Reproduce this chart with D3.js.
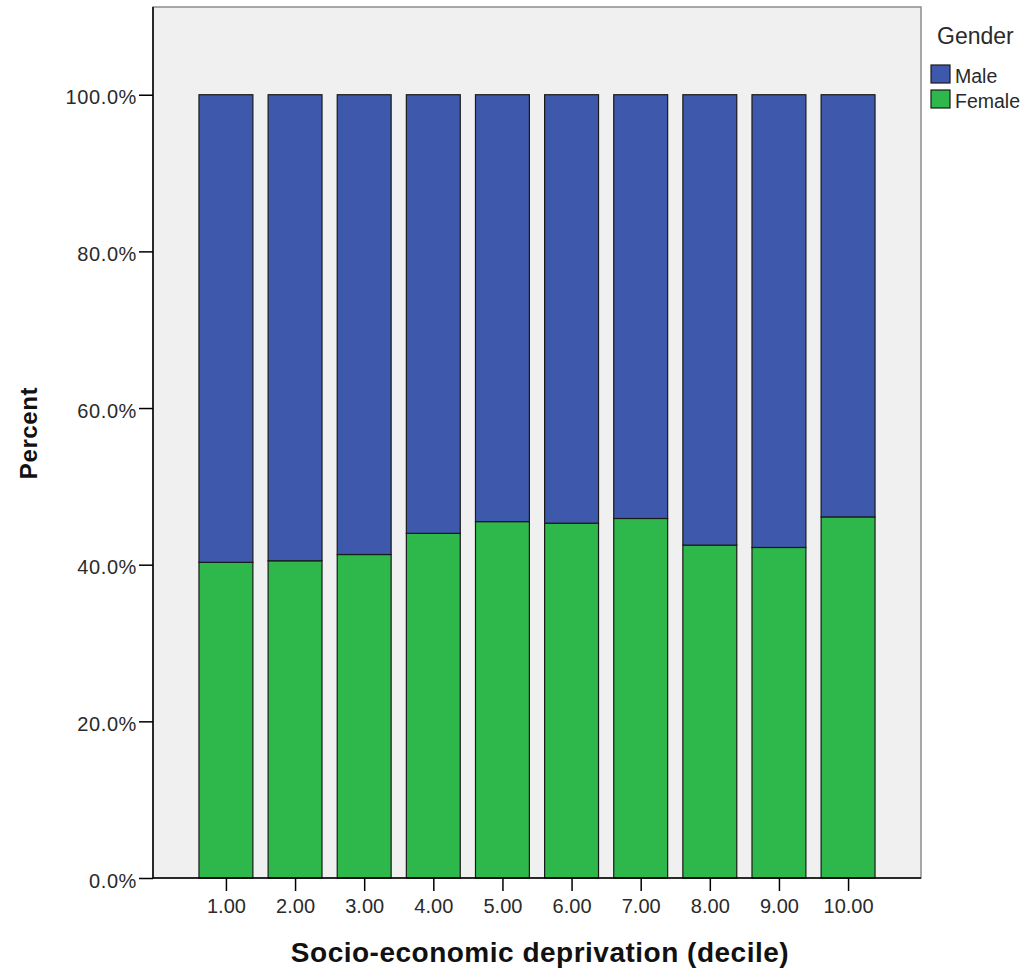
<!DOCTYPE html>
<html><head><meta charset="utf-8">
<script src="https://cdn.jsdelivr.net/npm/d3@7"></script>
<style>body{margin:0;background:#fff}svg{display:block;font-family:"Liberation Sans",Arial,sans-serif}</style>
</head><body>
<svg id="c" width="1025" height="970"></svg>
<script>
const categories = ["1.00","2.00","3.00","4.00","5.00","6.00","7.00","8.00","9.00","10.00"];
const femalePct = [40.3, 40.5, 41.3, 44.0, 45.5, 45.3, 45.9, 42.5, 42.2, 46.1];
const malePct = femalePct.map(v => 100 - v);
const yTicks = [0, 20, 40, 60, 80, 100];
const seriesNames = ["Male", "Female"];
const colors = {Male: "#3e58ac", Female: "#2eb84b"};

const svg = d3.select("#c");
const L = 153, R = 921, T = 7, B = 878;
const y = d3.scaleLinear().domain([0, 111.2]).range([B, T]);
const x = d3.scalePoint().domain(categories).range([L, R]).padding(1.055);
const bw = x.step() * 0.78;

svg.append("rect").attr("x", L).attr("y", T).attr("width", R - L).attr("height", B - T)
  .attr("fill", "#f0f0f0").attr("stroke", "#8c8c8c").attr("stroke-width", 1.5);

const data = categories.map((c, i) => ({c, Female: femalePct[i], Male: malePct[i]}));
const stack = d3.stack().keys(["Female", "Male"])(data);
svg.append("g").selectAll("g").data(stack).join("g")
  .attr("fill", d => colors[d.key])
  .selectAll("rect").data(d => d).join("rect")
  .attr("x", d => x(d.data.c) - bw / 2)
  .attr("y", d => y(d[1]))
  .attr("width", bw)
  .attr("height", d => y(d[0]) - y(d[1]))
  .attr("stroke", "#1a1a1a").attr("stroke-width", 1.2);

// axes
const ya = svg.append("g").attr("transform", `translate(${L},0)`)
  .call(d3.axisLeft(y).tickValues(yTicks).tickFormat(d => d.toFixed(1) + "%").tickSize(14).tickPadding(2));
const xa = svg.append("g").attr("transform", `translate(0,${B})`)
  .call(d3.axisBottom(x).tickSize(13).tickPadding(8));
[ya, xa].forEach(a => {
  a.attr("font-size", null).attr("font-family", null);
  a.select(".domain").attr("stroke", "#000").attr("stroke-width", 1.5);
  a.selectAll(".tick line").attr("stroke", "#000").attr("stroke-width", 1.5);
  a.selectAll("text").attr("font-size", 20).attr("fill", "#2a2a2a")
    .attr("font-family", "'Liberation Sans',Arial,sans-serif");
});
ya.selectAll("text").attr("dy", "0.45em").attr("letter-spacing", 0.6);
ya.select(".domain").attr("d", `M0,${B}V${T}`);
xa.select(".domain").attr("d", `M${L},0H${R}`);

svg.append("text").attr("transform", `translate(37,433) rotate(-90)`)
  .attr("text-anchor", "middle").attr("font-size", 24).attr("font-weight", "bold")
  .attr("letter-spacing", 0.6).attr("fill", "#111").text("Percent");
svg.append("text").attr("x", 540).attr("y", 962)
  .attr("text-anchor", "middle").attr("font-size", 28).attr("font-weight", "bold")
  .attr("letter-spacing", 0.5).attr("fill", "#111").text("Socio-economic deprivation (decile)");

// legend
const lg = svg.append("g");
lg.append("text").attr("x", 937).attr("y", 43.5).attr("font-size", 23).attr("fill", "#2a2a2a").text("Gender");
seriesNames.forEach((n, i) => {
  lg.append("rect").attr("x", 931).attr("y", 65 + i * 25).attr("width", 19).attr("height", 18)
    .attr("fill", colors[n]).attr("stroke", "#1a1a1a").attr("stroke-width", 1.2);
  lg.append("text").attr("x", 955).attr("y", 83 + i * 25).attr("font-size", 19.5).attr("fill", "#2a2a2a").text(n);
});
</script>
</body></html>
